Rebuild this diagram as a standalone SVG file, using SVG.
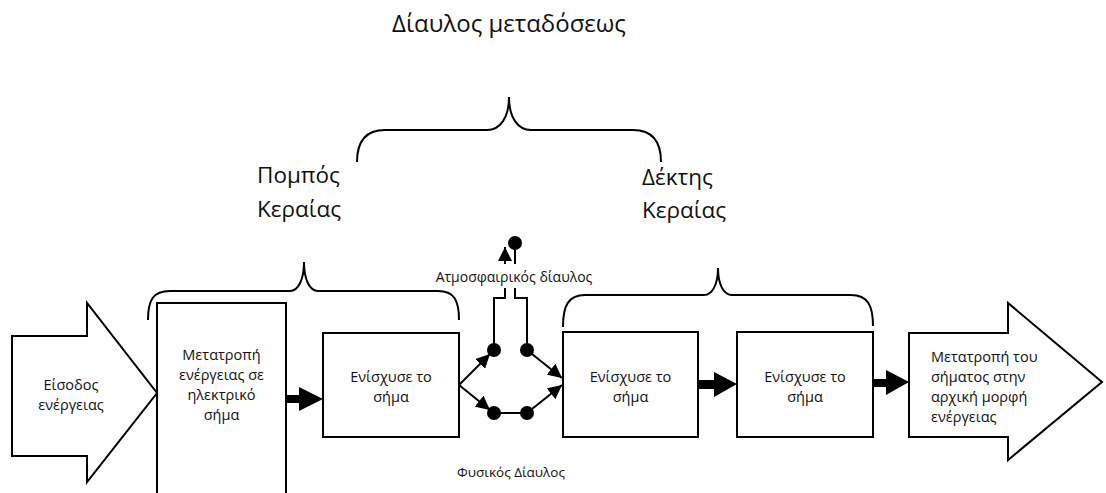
<svg xmlns="http://www.w3.org/2000/svg" width="1106" height="493" viewBox="0 0 1106 493">
<style>
  .shape { fill: #fff; stroke: #000; stroke-width: 2; }
  .brace { fill: none; stroke: #000; stroke-width: 2; }
  .line { fill: none; stroke: #000; stroke-width: 2; }
  .dot { fill: #000; }
  .thick { fill: #000; }
  text { font-family: "Open Sans", "Noto Sans", sans-serif; fill: #111; }
  .box { font-size: 14.5px; text-anchor: middle; }
  .big { font-size: 22.5px; }
  .small { font-size: 13.5px; }
</style>
<defs>
  <marker id="arr" markerUnits="userSpaceOnUse" markerWidth="16" markerHeight="14" refX="14" refY="7" orient="auto">
    <path d="M0,0 L14,7 L0,14 Z" fill="#000"/>
  </marker>
</defs>

<g id="title">
  <text x="509" y="32" text-anchor="middle" style="font-size:24px">Δίαυλος μεταδόσεως</text>
  <path class="brace" d="M357,162 C357,143 365,130 385,130 L487,130 C500,130 509,118 509,97 C509,118 518,130 531,130 L633,130 C653,130 661,143 661,162"/>
</g>

<g id="transmitter-label">
  <text class="big" x="257" y="183">Πομπός</text>
  <text class="big" x="257" y="217">Κεραίας</text>
  <path class="brace" d="M148,320 C148,300 153,291 170,291 L290,291 C298,291 304,280 304,262 C304,280 310,291 318,291 L438,291 C454,291 459,300 459,320"/>
</g>

<g id="receiver-label">
  <text class="big" x="642" y="185">Δέκτης</text>
  <text class="big" x="642" y="218">Κεραίας</text>
  <path class="brace" d="M563,327 C563,306 568,295 585,295 L704,295 C712,295 718,285 718,268 C718,285 724,295 732,295 L851,295 C868,295 873,306 873,326"/>
</g>

<g id="input">
  <path class="shape" d="M12,336 L87,336 L87,303 L157,393 L87,482 L87,456 L12,456 Z"/>
  <text class="box" x="71" y="390">Είσοδος</text>
  <text class="box" x="71" y="410">ενέργειας</text>
</g>

<g id="convert">
  <rect class="shape" x="157" y="303" width="129" height="200"/>
  <text class="box" x="221.5" y="360">Μετατροπή</text>
  <text class="box" x="221.5" y="380">ενέργειας σε</text>
  <text class="box" x="221.5" y="400">ηλεκτρικό</text>
  <text class="box" x="221.5" y="420">σήμα</text>
</g>

<g id="amp1">
  <rect class="shape" x="323" y="333" width="136" height="104"/>
  <text class="box" x="391" y="382">Ενίσχυσε το</text>
  <text class="box" x="391" y="402">σήμα</text>
</g>

<g id="amp2">
  <rect class="shape" x="563" y="332" width="135" height="105"/>
  <text class="box" x="630.5" y="382">Ενίσχυσε το</text>
  <text class="box" x="630.5" y="402">σήμα</text>
</g>

<g id="amp3">
  <rect class="shape" x="737" y="332" width="136" height="105"/>
  <text class="box" x="805" y="382">Ενίσχυσε το</text>
  <text class="box" x="805" y="402">σήμα</text>
</g>

<g id="output">
  <path class="shape" d="M909,333 L1008,333 L1008,303 L1102,382 L1008,460 L1008,437 L909,437 Z"/>
  <text class="box" x="931" y="362" style="text-anchor:start">Μετατροπή του</text>
  <text class="box" x="931" y="382" style="text-anchor:start">σήματος στην</text>
  <text class="box" x="931" y="402" style="text-anchor:start">αρχική μορφή</text>
  <text class="box" x="931" y="422" style="text-anchor:start">ενέργειας</text>
</g>

<g id="connectors">
  <path class="thick" d="M286,395 L299,395 L299,387 L323,399 L299,411 L299,403 L286,403 Z"/>
  <path class="thick" d="M698,380 L714,380 L714,372 L737,384 L714,397 L714,389 L698,389 Z"/>
  <path class="thick" d="M873,379 L886,379 L886,370 L909,382 L886,395 L886,387 L873,387 Z"/>

  <line class="line" x1="459" y1="385" x2="490" y2="354" marker-end="url(#arr)"/>
  <line class="line" x1="459" y1="385" x2="490" y2="410" marker-end="url(#arr)"/>
  <line class="line" x1="494" y1="413" x2="527" y2="413"/>
  <line class="line" x1="527" y1="350" x2="562" y2="378" marker-end="url(#arr)"/>
  <line class="line" x1="527" y1="413" x2="562" y2="385" marker-end="url(#arr)"/>
  <path class="line" d="M494,350 L494,298 L505,298 L505,247" marker-end="url(#arr)"/>
  <path class="line" d="M527,350 L527,298 L515,298 L515,243"/>
  <circle class="dot" cx="494" cy="350" r="7"/>
  <circle class="dot" cx="527" cy="350" r="7"/>
  <circle class="dot" cx="494" cy="413" r="7"/>
  <circle class="dot" cx="527" cy="413" r="7"/>
  <circle class="dot" cx="515" cy="243" r="7"/>
</g>

<g id="atmos-label">
  <rect x="431" y="264" width="167" height="24" fill="#fff"/>
  <text class="small" x="514" y="282" text-anchor="middle" style="font-size:14px">Ατμοσφαιρικός δίαυλος</text>
</g>

<g id="physical-label">
  <text class="small" x="511" y="477" text-anchor="middle">Φυσικός Δίαυλος</text>
</g>
</svg>
